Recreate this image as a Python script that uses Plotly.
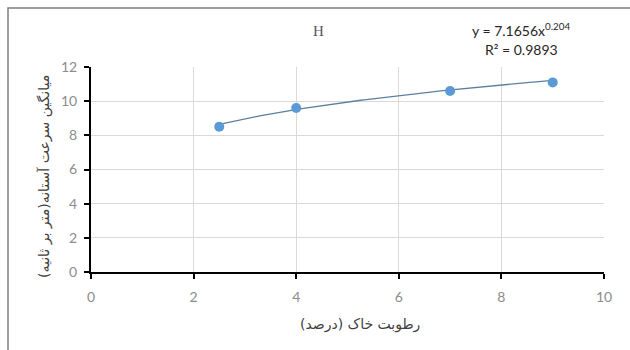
import numpy as np
import plotly.graph_objects as go

# Measured points: soil moisture (%) vs. mean threshold velocity (m/s)
moisture = [2.5, 4, 7, 9]
velocity = [8.5, 9.6, 10.6, 11.1]

# Power trendline y = a * x^b as stated on the chart
coef_a = 7.1656
coef_b = 0.204
r_squared = 0.9893

x_ticks = [0, 2, 4, 6, 8, 10]
y_ticks = [0, 2, 4, 6, 8, 10, 12]

W, H = 630, 350
ml, mr, mt, mb = 91, 26, 67, 78

trend_x = np.linspace(min(moisture), max(moisture), 100)
trend_y = coef_a * trend_x ** coef_b

fig = go.Figure()
fig.add_trace(go.Scatter(
    x=trend_x, y=trend_y, mode="lines",
    line=dict(color="#5c7f9e", width=1.3),
    hoverinfo="skip", showlegend=False,
))
fig.add_trace(go.Scatter(
    x=moisture, y=velocity, mode="markers",
    marker=dict(color="#5B9BD5", size=10),
    showlegend=False,
))

axis_common = dict(
    showgrid=True, gridcolor="#d9d9d9", gridwidth=1,
    showline=True, linecolor="black", linewidth=2,
    ticks="outside", ticklen=5, tickwidth=2, tickcolor="black",
    tickfont=dict(family="Lato", size=14, color="#8c8c8c"),
    zeroline=False,
)

fig.update_xaxes(range=[0, 10], tickvals=x_ticks, ticklabelstandoff=6, **axis_common)
fig.update_yaxes(range=[0, 12], tickvals=y_ticks, ticklabelstandoff=4, **axis_common)


def px_x(p):
    return (p - ml) / (W - ml - mr)


def px_y(p):
    return 1 - (p - mt) / (H - mt - mb)


def label(text, x, y, size, color, family="Lato", angle=0):
    return dict(text=text, x=px_x(x), y=px_y(y), xref="paper", yref="paper",
                xanchor="center", yanchor="middle", showarrow=False,
                textangle=angle, font=dict(family=family, size=size, color=color))


annotations = [
    label("H", 318, 31, 15, "#595959", family="Liberation Serif"),
    label(f"y = {coef_a}x<sup>{coef_b}</sup>", 521, 29, 14, "#262626"),
    label(f"R² = {r_squared}", 521, 50, 14, "#262626"),
    label("میانگین سرعت آستانه(متر بر ثانیه)", 44, 177, 14, "#404040",
          family="DejaVu Sans", angle=-90),
    label("رطوبت خاک (درصد)", 360, 324, 14, "#404040", family="DejaVu Sans"),
]

fig.update_layout(
    width=W, height=H,
    margin=dict(l=ml, r=mr, t=mt, b=mb),
    paper_bgcolor="white", plot_bgcolor="white",
    annotations=annotations,
    shapes=[dict(type="rect", xref="paper", yref="paper",
                 x0=px_x(8), x1=px_x(660), y0=px_y(8), y1=px_y(380),
                 line=dict(color="#7f7f7f", width=1.5), layer="below")],
)

fig.write_html("out.html")
